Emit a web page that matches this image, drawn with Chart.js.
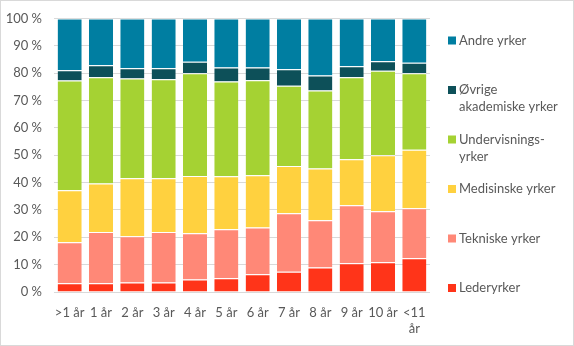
<!DOCTYPE html>
<html>
<head>
<meta charset="utf-8">
<script src="https://cdn.jsdelivr.net/npm/chart.js@4/dist/chart.umd.min.js"></script>
<style>
  html, body { margin: 0; padding: 0; background: #fff; }
  #wrap { position: relative; width: 574px; height: 346px; border: 1px solid #d9d9d9; box-sizing: border-box; }
  #chart { position: absolute; left: 0; top: 0; }
</style>
</head>
<body>
<div id="wrap"><canvas id="chart" width="574" height="346"></canvas></div>
<script>
// Kategorier (år) og andeler i prosent, lest av figuren
const years = ['>1 år', '1 år', '2 år', '3 år', '4 år', '5 år', '6 år', '7 år', '8 år', '9 år', '10 år', ['<11', 'år']];

const leder        = [3.2, 3.2, 3.5, 3.5, 4.6, 5.0, 6.5, 7.4, 9.0, 10.5, 10.9, 12.3];
const tekniske     = [15.0, 18.7, 16.9, 18.4, 16.9, 17.9, 17.1, 21.4, 17.2, 21.2, 18.6, 18.3];
const medisinske   = [19.0, 17.8, 21.2, 19.7, 20.9, 19.4, 19.1, 17.3, 19.0, 16.8, 20.5, 21.4];
const undervisning = [40.1, 38.8, 36.5, 36.2, 37.6, 34.7, 34.7, 29.3, 28.5, 30.0, 30.9, 28.0];
const ovrige       = [3.8, 4.4, 3.7, 4.0, 4.2, 5.1, 4.7, 6.0, 5.5, 4.0, 3.5, 3.8];
const andre        = [18.9, 17.1, 18.2, 18.2, 15.8, 17.9, 17.9, 18.6, 20.8, 17.5, 15.6, 16.2];

const yTicks = [0, 10, 20, 30, 40, 50, 60, 70, 80, 90, 100];

const FONT = 'Lato, "Open Sans", sans-serif';
const TEXT = '#595959';
const GRID = '#d9d9d9';

// Legenden til høyre, i samme rekkefølge som segmentene ovenfra og ned
const legendRows = [
  { text: ['Andre yrker'], color: '#007ea1' },
  { text: ['Øvrige', 'akademiske yrker'], color: '#0d5059' },
  { text: ['Undervisnings-', 'yrker'], color: '#a5d233' },
  { text: ['Medisinske yrker'], color: '#ffd13f' },
  { text: ['Tekniske yrker'], color: '#ff8877' },
  { text: ['Lederyrker'], color: '#ff3419' },
];

const sideLegend = {
  id: 'sideLegend',
  afterDraw(chart) {
    const ctx = chart.ctx;
    ctx.save();
    ctx.font = '13px ' + FONT;
    ctx.textBaseline = 'middle';
    legendRows.forEach((row, i) => {
      const y = 39.5 + i * 49.5;
      ctx.fillStyle = row.color;
      ctx.fillRect(447, y - 4, 8, 8);
      ctx.fillStyle = TEXT;
      row.text.forEach((t, j) => ctx.fillText(t, 458, y + j * 17));
    });
    ctx.restore();
  },
};

function ds(label, data, color) {
  return {
    label, data,
    backgroundColor: color,
    borderColor: '#fff',
    borderWidth: { top: 1, bottom: 0, left: 0, right: 0 },
    borderSkipped: false,
    barPercentage: 0.77,
    categoryPercentage: 1,
  };
}

new Chart(document.getElementById('chart'), {
  type: 'bar',
  data: {
    labels: years,
    datasets: [
      ds('Lederyrker', leder, '#ff3419'),
      ds('Tekniske yrker', tekniske, '#ff8877'),
      ds('Medisinske yrker', medisinske, '#ffd13f'),
      ds('Undervisningsyrker', undervisning, '#a5d233'),
      ds('Øvrige akademiske yrker', ovrige, '#0d5059'),
      ds('Andre yrker', andre, '#007ea1'),
    ],
  },
  options: {
    responsive: false, animation: false,
    layout: { padding: { left: 0, top: 17.5, right: 145, bottom: 0 } },
    plugins: { legend: { display: false }, tooltip: { enabled: false } },
    scales: {
      x: {
        stacked: true,
        grid: { display: false },
        border: { display: false },
        ticks: { color: TEXT, font: { family: FONT, size: 13 }, padding: 5, maxRotation: 0, autoSkip: false },
        afterFit: (s) => { s.height = 55; s.paddingLeft = 0; s.paddingRight = 0; },
      },
      y: {
        stacked: true, min: 0, max: 100,
        afterBuildTicks: (s) => { s.ticks = yTicks.map(v => ({ value: v })); },
        grid: { color: GRID, drawTicks: false },
        border: { display: false },
        ticks: { color: TEXT, font: { family: FONT, size: 13 }, padding: 12, callback: (v) => v + ' %' },
        afterFit: (s) => { s.width = 53; s.paddingTop = 0; s.paddingBottom = 0; },
      },
    },
  },
  plugins: [sideLegend],
});
</script>
</body>
</html>
